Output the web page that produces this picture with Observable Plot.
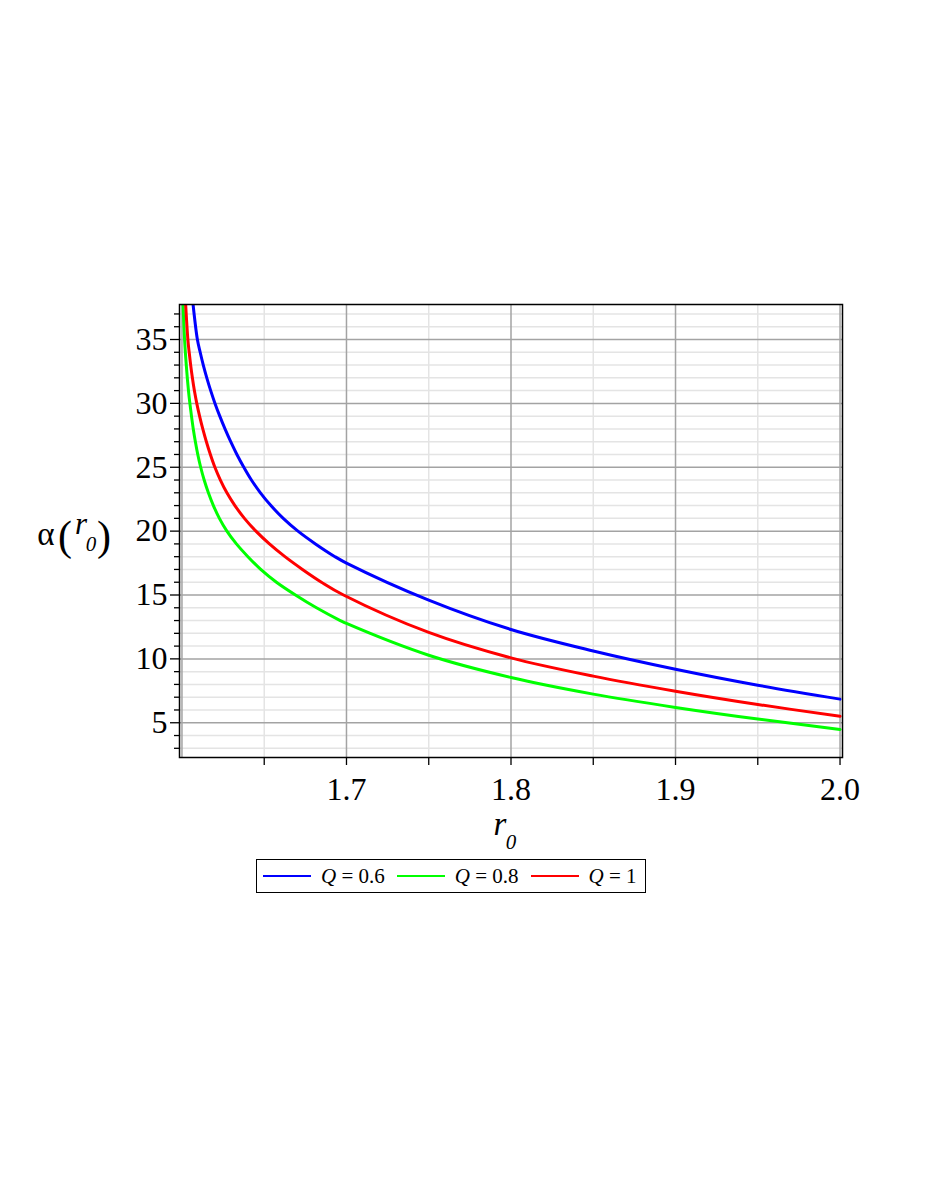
<!DOCTYPE html>
<html>
<head>
<meta charset="utf-8">
<script src="https://cdn.jsdelivr.net/npm/d3@7"></script>
<script src="https://cdn.jsdelivr.net/npm/@observablehq/plot@0.6"></script>
<style>
  html, body { margin: 0; padding: 0; background: #fff; }
  #chart svg { display: block; }
  #legend {
    margin-left: 256px; margin-top: 1px;
    width: 388px; height: 32px; border: 1.5px solid #000;
    display: flex; align-items: center;
    font-family: "Liberation Serif", serif; font-size: 21px; color: #000;
  }
  #legend .sw { display: inline-block; width: 48px; height: 0; border-top: 2.5px solid; margin-left: 6px; margin-right: 10px; }
  #legend .lab { margin-right: 6px; white-space: pre; }
</style>
</head>
<body>
<div id="chart"></div>
<div id="legend"></div>
<script>
// Series: r0 values and alpha(r0) values
const seriesNames = ["Q = 0.6", "Q = 0.8", "Q = 1"];
const seriesQ = ["0.6", "0.8", "1"];
const seriesColors = ["#0000ff", "#00ff00", "#ff0000"];

const q06R = [1.60675, 1.60937, 1.61107, 1.61296, 1.61509, 1.61746, 1.62007, 1.62299, 1.62616, 1.62962,
              1.63339, 1.63759, 1.64221, 1.64769, 1.65407, 1.66156, 1.67050, 1.68114, 1.69300, 1.70,
              1.75, 1.80, 1.85, 1.90, 1.95, 2.00];
const q06A = [37.74, 35, 34, 33, 32, 31, 30, 29, 28, 27,
              26, 25, 24, 23, 22, 21, 20, 19, 18, 17.5,
              14.6, 12.3, 10.62, 9.19, 7.94, 6.85];

const q08R = [1.60067, 1.60158, 1.60262, 1.60395, 1.60481, 1.60578, 1.60687, 1.60815, 1.60961, 1.61137,
              1.61350, 1.61606, 1.61910, 1.62275, 1.62731, 1.63309, 1.64008, 1.64787, 1.65742, 1.66898,
              1.68175, 1.69623, 1.70, 1.75, 1.80, 1.85, 1.90, 1.95, 2.00];
const q08A = [37.74, 35, 33, 31, 30, 29, 28, 27, 26, 25,
              24, 23, 22, 21, 20, 19, 18, 17, 16, 15,
              14, 13, 12.77, 10.28, 8.54, 7.24, 6.2, 5.29, 4.48];

const q1R = [1.60225, 1.60359, 1.60438, 1.60529, 1.60633, 1.60754, 1.60900, 1.61071, 1.61265, 1.61484,
             1.61727, 1.62001, 1.62336, 1.62731, 1.63218, 1.63796, 1.64495, 1.65316, 1.66259, 1.67324,
             1.68479, 1.69818, 1.75, 1.80, 1.85, 1.90, 1.95, 2.00];
const q1A = [37.74, 35, 34, 33, 32, 31, 30, 29, 28, 27,
             26, 25, 24, 23, 22, 21, 20, 19, 18, 17,
             16, 15, 12.07, 10.08, 8.65, 7.47, 6.43, 5.51];

// Axis ticks
const xMajorTicks = [1.7, 1.8, 1.9, 2.0];
const xTickLabels = ["1.7", "1.8", "1.9", "2.0"];
const xMinorTicks = [1.65, 1.75, 1.85, 1.95];
const xMajorGrid = [1.6, 1.7, 1.8, 1.9, 2.0];
const yMajorTicks = [5, 10, 15, 20, 25, 30, 35];
const yMinorTicks = [3, 4, 6, 7, 8, 9, 11, 12, 13, 14, 16, 17, 18, 19, 21, 22, 23, 24, 26, 27, 28, 29, 31, 32, 33, 34, 36, 37];

const xDomain = [1.5985, 2.0015];
const yDomain = [2.28, 37.74];

const seriesR = [q06R, q08R, q1R];
const seriesA = [q06A, q08A, q1A];
const data = seriesNames.flatMap((name, i) =>
  seriesR[i].map((r, j) => ({series: name, r, a: seriesA[i][j]})));

const FONT = '"Liberation Serif", "Times New Roman", serif';

const chart = Plot.plot({
  width: 926,
  height: 858,
  marginTop: 304,
  marginLeft: 179,
  marginRight: 84,
  marginBottom: 101,
  style: {fontFamily: FONT, fontSize: "32px", color: "#000", background: "#fff"},
  x: {domain: xDomain},
  y: {domain: yDomain},
  color: {domain: seriesNames, range: seriesColors},
  marks: [
    Plot.gridX(xMinorTicks, {stroke: "#e4e4e4", strokeOpacity: 1, strokeWidth: 1.5}),
    Plot.gridY(yMinorTicks, {stroke: "#e4e4e4", strokeOpacity: 1, strokeWidth: 1.5}),
    Plot.gridX(xMajorGrid, {stroke: "#a3a3a3", strokeOpacity: 1, strokeWidth: 1.5}),
    Plot.gridY(yMajorTicks, {stroke: "#a3a3a3", strokeOpacity: 1, strokeWidth: 1.5}),
    Plot.line(data, {x: "r", y: "a", z: "series", stroke: "series", strokeWidth: 3, curve: "catmull-rom", clip: true}),
    Plot.frame({stroke: "#000", strokeWidth: 1.5}),
    Plot.axisY(yMinorTicks, {tickSize: 5, tickFormat: () => "", label: null, strokeWidth: 1.3}),
    Plot.axisY(yMajorTicks, {tickSize: 9, tickPadding: 3, label: null, strokeWidth: 1.3, fontSize: 32}),
    Plot.axisX(xMinorTicks, {tickSize: 8, tickFormat: () => "", label: null, strokeWidth: 1.3}),
    Plot.axisX(xMajorTicks, {tickSize: 8, tickPadding: 12, label: null, strokeWidth: 1.3, fontSize: 32,
      tickFormat: (d) => xTickLabels[xMajorTicks.indexOf(d)]})
  ]
});
document.getElementById("chart").appendChild(chart);

// Axis titles (Maple style with subscripts)
const svg = d3.select(chart);
const xl = svg.append("text").attr("font-family", FONT).attr("fill", "#000");
xl.append("tspan").attr("x", 500).attr("y", 835).attr("font-size", 33).attr("font-style", "italic").text("r");
xl.append("tspan").attr("x", 511).attr("y", 849).attr("font-size", 21).attr("font-style", "italic").text("0");

const yl = svg.append("text").attr("font-family", FONT).attr("fill", "#000");
yl.append("tspan").attr("x", 46).attr("y", 545).attr("font-size", 33).text("α");
yl.append("tspan").attr("x", 65).attr("y", 550).attr("font-size", 42).text("(");
yl.append("tspan").attr("x", 81).attr("y", 534).attr("font-size", 31).attr("font-style", "italic").text("r");
yl.append("tspan").attr("x", 91).attr("y", 551).attr("font-size", 21).attr("font-style", "italic").text("0");
yl.append("tspan").attr("x", 104).attr("y", 550).attr("font-size", 42).text(")");

// Legend
const legend = document.getElementById("legend");
seriesNames.forEach((name, i) => {
  const sw = document.createElement("span");
  sw.className = "sw";
  sw.style.borderTopColor = seriesColors[i];
  legend.appendChild(sw);
  const lab = document.createElement("span");
  lab.className = "lab";
  lab.innerHTML = "<i>Q</i> = " + seriesQ[i];
  legend.appendChild(lab);
});
</script>
</body>
</html>
